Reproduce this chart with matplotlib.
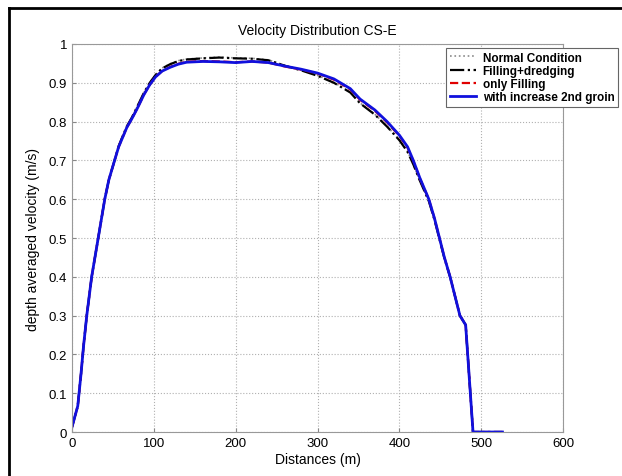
import matplotlib
matplotlib.use("Agg")
import matplotlib.pyplot as plt
from matplotlib.lines import Line2D

plt.rcParams['font.family'] = ['Liberation Sans', 'DejaVu Sans']

# distances (m) and depth averaged velocity (m/s)
dist = [0, 7, 11, 14, 18, 21, 24, 28, 32, 36, 40, 45, 52, 57, 62, 67, 73, 80,
        88, 95, 102, 110, 120, 130, 140, 160, 180, 200, 220, 240, 260, 280,
        300, 320, 340, 352, 370, 385, 400, 410, 417, 425, 436, 443, 449, 455,
        462, 468, 474, 481, 490, 526]
v_increase = [0.013, 0.067, 0.15, 0.22, 0.3, 0.35, 0.4, 0.45, 0.5, 0.55, 0.6,
              0.65, 0.7, 0.735, 0.76, 0.785, 0.807, 0.835, 0.87, 0.895, 0.915,
              0.93, 0.94, 0.948, 0.953, 0.955, 0.954, 0.952, 0.955, 0.952,
              0.943, 0.935, 0.925, 0.91, 0.885, 0.858, 0.83, 0.8, 0.765, 0.735,
              0.7, 0.655, 0.6, 0.55, 0.5, 0.45, 0.4, 0.35, 0.3, 0.276, 0.0, 0.0]
v_only_fill = [0.013, 0.067, 0.15, 0.22, 0.3, 0.35, 0.4, 0.45, 0.5, 0.55, 0.6,
               0.65, 0.7, 0.735, 0.76, 0.785, 0.807, 0.835, 0.87, 0.895,
               0.915, 0.93, 0.941, 0.949, 0.954, 0.956, 0.955, 0.953, 0.955,
               0.952, 0.942, 0.934, 0.924, 0.908, 0.883, 0.856, 0.828, 0.798,
               0.763, 0.733, 0.699, 0.654, 0.6, 0.55, 0.5, 0.45, 0.4, 0.35,
               0.3, 0.276, 0.0, 0.0]
v_fill_dredge = [0.013, 0.067, 0.15, 0.22, 0.3, 0.35, 0.4, 0.45, 0.5, 0.55,
                 0.6, 0.65, 0.7, 0.737, 0.763, 0.788, 0.81, 0.84, 0.875, 0.9,
                 0.92, 0.937, 0.948, 0.956, 0.96, 0.963, 0.965, 0.963, 0.962,
                 0.958, 0.944, 0.932, 0.918, 0.9, 0.875, 0.847, 0.818, 0.787,
                 0.752, 0.722, 0.69, 0.648, 0.595, 0.546, 0.497, 0.448, 0.4,
                 0.35, 0.3, 0.276, 0.0, 0.0]
v_normal = [0.013, 0.067, 0.15, 0.22, 0.3, 0.35, 0.4, 0.45, 0.5, 0.55, 0.6,
            0.65, 0.7, 0.737, 0.763, 0.788, 0.81, 0.84, 0.875, 0.9, 0.92,
            0.938, 0.949, 0.957, 0.961, 0.964, 0.966, 0.964, 0.963, 0.959,
            0.945, 0.933, 0.919, 0.901, 0.876, 0.848, 0.819, 0.788, 0.753,
            0.723, 0.69, 0.648, 0.595, 0.546, 0.497, 0.448, 0.4, 0.35, 0.3,
            0.276, 0.0, 0.0]

fig = plt.figure(figsize=(6.22, 4.77), dpi=100)
ax = fig.add_axes([0.1158, 0.0922, 0.7894, 0.8135])

ax.plot(dist, v_normal, ':', color='#8a8a8a', lw=1.2, label='Normal Condition')
ax.plot(dist, v_fill_dredge, '-.', color='black', lw=1.6, label='Filling+dredging')
ax.plot(dist, v_only_fill, '--', color='#e00000', lw=1.6, label='only Filling')
ax.plot(dist, v_increase, '-', color='#1010dd', lw=2.0, label='with increase 2nd groin')

ax.set_xlim(0, 600)
ax.set_ylim(0, 1)
ax.set_xticks([0, 100, 200, 300, 400, 500, 600])
ax.set_yticks([0, 0.1, 0.2, 0.3, 0.4, 0.5, 0.6, 0.7, 0.8, 0.9, 1])
ax.set_yticklabels(['0', '0.1', '0.2', '0.3', '0.4', '0.5', '0.6', '0.7',
                    '0.8', '0.9', '1'])
ax.grid(True, linestyle=':', color='#b0b0b0', lw=0.8)
ax.tick_params(direction='in', labelsize=9.5, length=3, color='#888888')
for s in ax.spines.values():
    s.set_color('#999999')
    s.set_linewidth(0.8)

ax.set_title('Velocity Distribution CS-E', fontsize=10, pad=7)
ax.set_xlabel('Distances (m)', fontsize=10, labelpad=2)
ax.set_ylabel('depth averaged velocity (m/s)', fontsize=10, labelpad=6)

leg = ax.legend(loc='upper left', bbox_to_anchor=(446 / 622, 1 - 49 / 477),
                bbox_transform=fig.transFigure, fancybox=False, framealpha=1,
                edgecolor='#666666', prop={'weight': 'bold', 'size': 8.5},
                handlelength=2.2, handletextpad=0.6, labelspacing=0.1,
                borderpad=0.3, borderaxespad=0)
leg.get_frame().set_linewidth(0.8)

# outer frame of the figure (left and top edges)
fig.add_artist(Line2D([9 / 622, 9 / 622], [0, 1 - 9 / 477], color='black', lw=2,
                      transform=fig.transFigure))
fig.add_artist(Line2D([9 / 622, 1], [1 - 9 / 477, 1 - 9 / 477], color='black',
                      lw=2, transform=fig.transFigure))

fig.savefig('out.png', dpi=100)
